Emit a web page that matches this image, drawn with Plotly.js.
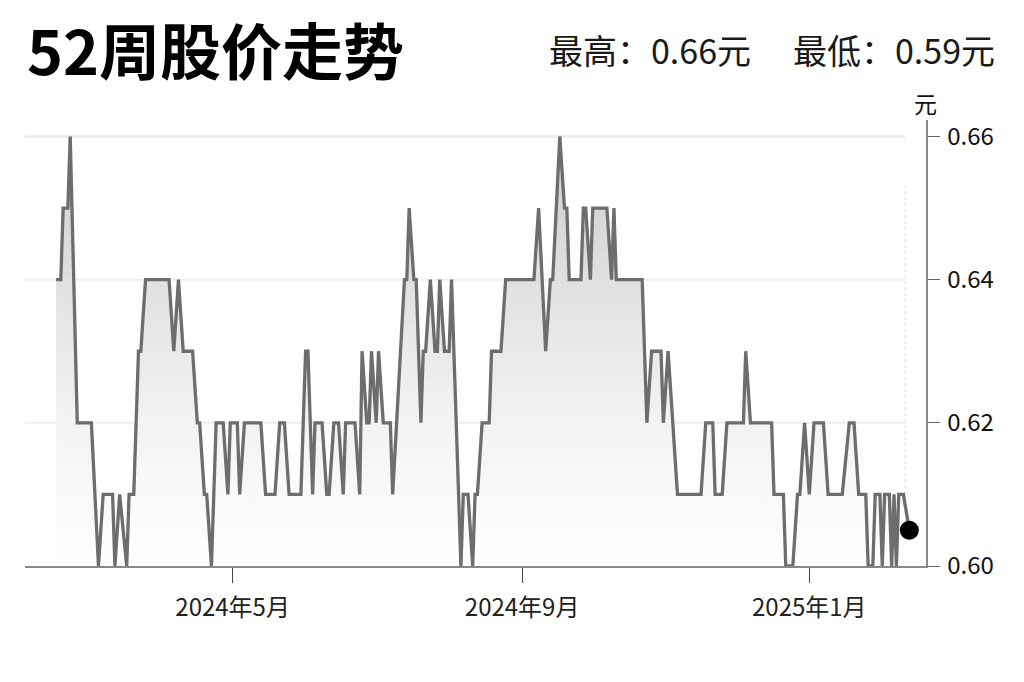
<!DOCTYPE html>
<html>
<head>
<meta charset="utf-8">
<script src="https://cdn.plot.ly/plotly-3.0.1.min.js"></script>
<style>
  html, body { margin: 0; padding: 0; background: #ffffff; }
  #chart { width: 1024px; height: 682px; }
</style>
</head>
<body>
<div id="chart"></div>
<script>
// Turning points of the 52-week price line (date, price in 元)
const dates = [
  "2024-02-16","2024-02-18","2024-02-19","2024-02-21","2024-02-22","2024-02-25",
  "2024-03-02","2024-03-05","2024-03-07","2024-03-11","2024-03-12","2024-03-14",
  "2024-03-17","2024-03-18","2024-03-20","2024-03-22","2024-03-23","2024-03-25",
  "2024-04-04","2024-04-06","2024-04-08","2024-04-10","2024-04-14","2024-04-16",
  "2024-04-17","2024-04-19","2024-04-20","2024-04-22","2024-04-24","2024-04-27",
  "2024-04-29","2024-04-30","2024-05-03","2024-05-04","2024-05-06","2024-05-13",
  "2024-05-15","2024-05-19","2024-05-21","2024-05-23","2024-05-25","2024-05-30",
  "2024-06-01","2024-06-02","2024-06-04","2024-06-05","2024-06-08","2024-06-10",
  "2024-06-11","2024-06-13","2024-06-15","2024-06-17","2024-06-18","2024-06-22",
  "2024-06-24","2024-06-25","2024-06-27","2024-06-28","2024-06-29","2024-07-01",
  "2024-07-02","2024-07-04","2024-07-07","2024-07-08","2024-07-13","2024-07-14",
  "2024-07-15","2024-07-17","2024-07-18","2024-07-20","2024-07-21","2024-07-22",
  "2024-07-24","2024-07-26","2024-07-27","2024-07-28","2024-07-30","2024-08-01",
  "2024-08-02","2024-08-06","2024-08-07","2024-08-09","2024-08-11","2024-08-12",
  "2024-08-13","2024-08-15","2024-08-18","2024-08-19","2024-08-23","2024-08-25",
  "2024-09-06","2024-09-08","2024-09-11","2024-09-13","2024-09-14","2024-09-17",
  "2024-09-19","2024-09-20","2024-09-21","2024-09-26","2024-09-27","2024-09-28",
  "2024-09-30","2024-10-01","2024-10-07","2024-10-09","2024-10-10","2024-10-11",
  "2024-10-22","2024-10-24","2024-10-26","2024-10-30","2024-10-31","2024-11-02",
  "2024-11-06","2024-11-16","2024-11-18","2024-11-21","2024-11-22","2024-11-25",
  "2024-11-27","2024-12-04","2024-12-05","2024-12-07","2024-12-16","2024-12-17",
  "2024-12-21","2024-12-22","2024-12-25","2024-12-27","2024-12-28","2024-12-30",
  "2025-01-01","2025-01-03","2025-01-07","2025-01-09","2025-01-15","2025-01-18",
  "2025-01-20","2025-01-22","2025-01-25","2025-01-26","2025-01-28","2025-01-29",
  "2025-01-31","2025-02-01","2025-02-02","2025-02-04","2025-02-05","2025-02-06",
  "2025-02-07","2025-02-08","2025-02-10","2025-02-12 12:00"
];
const prices = [
  0.64,0.64,0.65,0.65,0.66,0.62,
  0.62,0.60,0.61,0.61,0.60,0.61,
  0.60,0.61,0.61,0.63,0.63,0.64,
  0.64,0.63,0.64,0.63,0.63,0.62,
  0.62,0.61,0.61,0.60,0.62,0.62,
  0.61,0.62,0.62,0.61,0.62,0.62,
  0.61,0.61,0.62,0.62,0.61,0.61,
  0.63,0.63,0.61,0.62,0.62,0.61,
  0.61,0.62,0.62,0.61,0.62,0.62,
  0.61,0.63,0.62,0.62,0.63,0.62,
  0.63,0.62,0.62,0.61,0.64,0.64,
  0.65,0.64,0.64,0.62,0.63,0.63,
  0.64,0.63,0.63,0.64,0.63,0.63,
  0.64,0.60,0.61,0.61,0.60,0.61,
  0.61,0.62,0.62,0.63,0.63,0.64,
  0.64,0.65,0.63,0.64,0.64,0.66,
  0.65,0.65,0.64,0.64,0.65,0.65,
  0.64,0.65,0.65,0.64,0.65,0.64,
  0.64,0.62,0.63,0.63,0.62,0.63,
  0.61,0.61,0.62,0.62,0.61,0.61,
  0.62,0.62,0.63,0.62,0.62,0.61,
  0.61,0.60,0.60,0.61,0.61,0.62,
  0.61,0.62,0.62,0.61,0.61,0.62,
  0.62,0.61,0.61,0.60,0.60,0.61,
  0.61,0.60,0.61,0.61,0.60,0.61,
  0.60,0.61,0.61,0.605
];

const xTickVals = ["2024-05-01", "2024-09-01", "2025-01-01"];
const xTickText = ["2024年5月", "2024年9月", "2025年1月"];
const yTickVals = [0.60, 0.62, 0.64, 0.66];
const yTickText = ["0.60", "0.62", "0.64", "0.66"];

const titleText = "52周股价走势";
const highText = "最高：0.66元";
const lowText = "最低：0.59元";
const unitText = "元";

const FONT = '"Noto Sans CJK SC", "Noto Sans", sans-serif';
const gridEnd = "2025-02-10 17:00";

const lastIdx = dates.length - 1;

const traces = [
  {
    type: "scatter",
    mode: "lines",
    x: dates,
    y: prices,
    line: { color: "#6d6d6d", width: 3.3 },
    fill: "tozeroy",
    fillgradient: {
      type: "vertical",
      start: 0.60,
      stop: 0.66,
      colorscale: [[0, "#ffffff"], [0.35, "#f2f2f2"], [1, "#cdcdcd"]]
    },
    hoverinfo: "skip",
    showlegend: false
  },
  {
    type: "scatter",
    mode: "markers",
    x: [dates[lastIdx]],
    y: [prices[lastIdx]],
    marker: { color: "#000000", size: 19 },
    hoverinfo: "skip",
    showlegend: false
  }
];

const shapes = yTickVals.slice(1).map(v => ({
  type: "line", xref: "x", yref: "y", layer: "below",
  x0: "2024-02-02 19:00", x1: gridEnd, y0: v, y1: v,
  line: { color: "#eeeeee", width: v === 0.66 ? 3 : 2 }
}));
shapes.push({
  type: "line", xref: "x", yref: "y", layer: "below",
  x0: gridEnd, x1: gridEnd, y0: 0.60, y1: 0.6532,
  line: { color: "#dddddd", width: 1, dash: "dot" }
});

const layout = {
  width: 1024,
  height: 682,
  margin: { l: 25, r: 98, t: 120, b: 116 },
  paper_bgcolor: "#ffffff",
  plot_bgcolor: "#ffffff",
  font: { family: FONT, color: "#111111" },
  showlegend: false,
  xaxis: {
    type: "date",
    range: ["2024-02-02 19:00", "2025-02-19 14:00"],
    tickmode: "array",
    tickvals: xTickVals,
    ticktext: xTickText,
    ticks: "outside",
    ticklen: 15,
    tickwidth: 1,
    tickcolor: "#444444",
    ticklabelstandoff: 4,
    tickfont: { family: FONT, size: 24, color: "#222222" },
    showline: true,
    linecolor: "#888888",
    linewidth: 2,
    showgrid: false,
    zeroline: false,
    fixedrange: true
  },
  yaxis: {
    side: "right",
    range: [0.60, 0.6623],
    tickmode: "array",
    tickvals: yTickVals,
    ticktext: yTickText,
    ticks: "outside",
    ticklen: 12,
    tickwidth: 1,
    tickcolor: "#666666",
    ticklabelstandoff: 3,
    tickfont: { family: FONT, size: 24, color: "#111111" },
    showline: true,
    linecolor: "#888888",
    linewidth: 1.5,
    showgrid: false,
    zeroline: false,
    fixedrange: true
  },
  shapes: shapes,
  annotations: [
    {
      xref: "paper", yref: "paper", x: 0, y: 1.1614,
      xanchor: "left", yanchor: "middle", showarrow: false,
      text: "<b>" + titleText + "</b>",
      font: { family: FONT, size: 61, color: "#000000" }
    },
    {
      xref: "paper", yref: "paper", x: 0.808, y: 1.157,
      xanchor: "right", yanchor: "middle", showarrow: false,
      text: highText,
      font: { family: FONT, size: 34, color: "#1a1a1a" }
    },
    {
      xref: "paper", yref: "paper", x: 1.0788, y: 1.157,
      xanchor: "right", yanchor: "middle", showarrow: false,
      text: lowText,
      font: { family: FONT, size: 34, color: "#1a1a1a" }
    },
    {
      xref: "paper", yref: "paper", x: 0.9989, y: 1.038,
      xanchor: "center", yanchor: "middle", showarrow: false,
      text: unitText,
      font: { family: FONT, size: 23, color: "#111111" }
    }
  ]
};

Plotly.newPlot("chart", traces, layout, { displayModeBar: false, staticPlot: true });
</script>
</body>
</html>
